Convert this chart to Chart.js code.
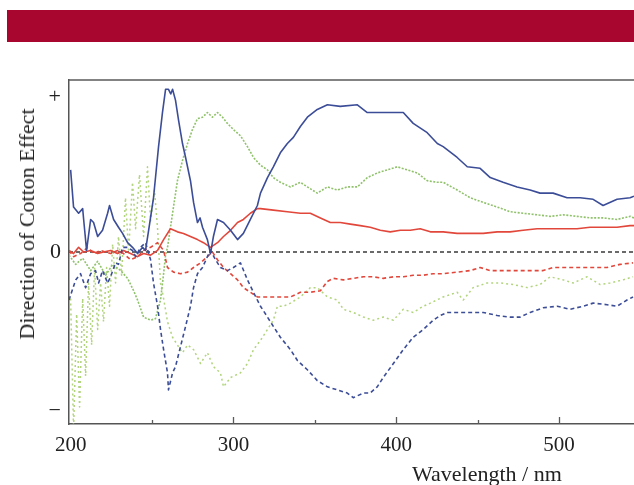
<!DOCTYPE html>
<html><head><meta charset="utf-8">
<script src="https://cdn.jsdelivr.net/npm/chart.js@4"></script>
<style>
html,body{margin:0;padding:0;background:#fff;}
#wrap{position:relative;width:634px;height:485px;overflow:hidden;background:#fff;}
#bar{position:absolute;left:7px;top:10px;width:627px;height:32px;background:#a8062f;}
canvas{position:absolute;left:0;top:0;}
.t{position:absolute;font-family:'Liberation Serif','Times New Roman',serif;color:#222;white-space:nowrap;}
#ytitle{left:27px;top:224px;font-size:22px;line-height:22px;transform:translate(-50%,-50%) rotate(-90deg);}
#xtitle{left:412px;top:463px;font-size:22px;line-height:22px;}
</style></head><body>
<div id="wrap"><div id="bar"></div><canvas id="c" width="634" height="485"></canvas>
<div class="t" id="ytitle">Direction of Cotton Effect</div>
<div class="t" id="xtitle">Wavelength / nm</div></div>
<script>
// ---- data: [wavelength nm, relative CD signal] ----
const blueSolid = [[200,0.53],[201.8,0.29],[204.9,0.25],[207.4,0.28],[208,0.21],[209.8,0.01],[212.3,0.21],[214.1,0.19],[216.6,0.10],[219.6,0.14],[222.7,0.25],[223.9,0.30],[226.4,0.21],[229.4,0.16],[231.9,0.12],[235,0.06],[238,0.03],[241.1,-0.01],[244.2,0.03],[246,0.01],[247.9,0.14],[250.9,0.35],[254,0.68],[256.4,0.90],[258.3,1.05],[260.1,1.05],[261.5,1.02],[262.6,1.05],[264.4,0.98],[266.3,0.85],[268.7,0.70],[270.6,0.61],[273.6,0.46],[275.5,0.32],[277.9,0.19],[279.5,0.22],[281,0.16],[284,0.08],[285.9,-0.01],[287.7,0.10],[290.2,0.21],[293.9,0.19],[298.2,0.14],[302.5,0.08],[306.1,0.12],[310.4,0.21],[314.7,0.30],[316.6,0.38],[320.9,0.48],[324.5,0.55],[328.8,0.64],[333.1,0.70],[336.8,0.74],[341.1,0.81],[345.4,0.87],[351.5,0.92],[357.7,0.95],[365.6,0.94],[376.1,0.95],[382.2,0.90],[390.2,0.90],[398.2,0.90],[404.3,0.90],[410.4,0.83],[419,0.77],[425.2,0.70],[428.8,0.68],[437.4,0.61],[443.6,0.55],[451.5,0.54],[457.7,0.48],[465.6,0.45],[474.2,0.42],[482.2,0.40],[488.3,0.38],[496.3,0.38],[504.9,0.35],[512.9,0.35],[520.9,0.34],[527,0.30],[535.6,0.34],[543.6,0.35],[546,0.36]];
const blueDashed = [[199,-0.31],[203.1,-0.18],[206.1,-0.14],[209.2,-0.23],[212.3,-0.14],[215.3,-0.12],[217.2,-0.20],[219.6,-0.12],[222.7,-0.20],[224.5,-0.16],[227.6,-0.07],[229.4,-0.08],[231.9,0.03],[235,0.03],[238,0.01],[239.9,-0.03],[242.9,0.03],[246,0.06],[249.1,-0.05],[250.9,-0.20],[253.4,-0.35],[255.2,-0.50],[257.1,-0.63],[259.5,-0.78],[260.1,-0.89],[262.6,-0.78],[264.4,-0.74],[267.5,-0.61],[270.6,-0.48],[273.6,-0.35],[275.5,-0.23],[277.9,-0.14],[281,-0.10],[284,-0.03],[285.9,0.01],[289,-0.05],[292,-0.10],[296.3,-0.12],[300,-0.10],[304.3,-0.07],[308.6,-0.18],[312.3,-0.26],[316.6,-0.35],[320.9,-0.42],[324.5,-0.48],[328.8,-0.55],[335,-0.63],[339.3,-0.70],[345.4,-0.76],[351.5,-0.83],[357.7,-0.87],[363.8,-0.89],[369.9,-0.91],[373.6,-0.94],[379.8,-0.91],[384,-0.91],[388.3,-0.87],[392,-0.81],[398.2,-0.72],[404.3,-0.63],[410.4,-0.55],[416.6,-0.50],[422.7,-0.44],[427,-0.41],[431.3,-0.39],[437.4,-0.39],[445.4,-0.39],[453.4,-0.39],[462,-0.41],[469.9,-0.42],[476.1,-0.42],[482.2,-0.39],[490.2,-0.36],[498.8,-0.35],[506.7,-0.37],[514.7,-0.35],[520.9,-0.33],[529.4,-0.34],[535.6,-0.35],[541.7,-0.31],[545.4,-0.29]];
const greenUpper = [[199,-0.02],[203.1,-0.08],[207.4,-0.04],[212.3,-0.12],[216.6,-0.06],[221.5,-0.15],[225.8,-0.08],[230.7,-0.12],[235,-0.17],[238.7,-0.25],[241.1,-0.31],[244.8,-0.42],[249.1,-0.44],[252.1,-0.43],[255.2,-0.31],[257.1,-0.14],[258.3,-0.02],[259.5,0.03],[262.6,0.25],[265.6,0.46],[268.7,0.59],[271.8,0.70],[274.8,0.79],[277.9,0.86],[281,0.87],[284,0.90],[287.1,0.87],[290.2,0.90],[293.3,0.87],[296.3,0.83],[300,0.79],[304.3,0.75],[308.6,0.68],[312.3,0.61],[316.6,0.56],[320.9,0.53],[324.5,0.48],[328.8,0.45],[335,0.42],[341.1,0.45],[345.4,0.42],[351.5,0.38],[357.7,0.42],[363.8,0.40],[369.9,0.42],[376.1,0.42],[382.2,0.48],[388.3,0.51],[394.5,0.53],[400.6,0.55],[406.7,0.53],[412.9,0.51],[419,0.46],[425.2,0.45],[428.8,0.45],[437.4,0.40],[445.4,0.35],[453.4,0.32],[462,0.29],[469.9,0.26],[477.9,0.25],[486.5,0.24],[494.5,0.23],[502.5,0.24],[511,0.23],[519,0.22],[527,0.22],[535.6,0.21],[543.6,0.23],[546,0.22]];
const greenLower = [[200,-0.30],[201.8,-1.15],[203.7,-0.40],[205.5,-1.0],[207.4,-0.30],[209.2,-0.80],[211,-0.20],[212.9,-0.60],[214.7,-0.10],[216.6,-0.50],[218.4,-0.20],[220.2,-0.45],[222.1,-0.10],[223.9,-0.35],[225.8,0.05],[227.6,-0.20],[229.4,0.10],[231.3,-0.15],[233.7,0.35],[235.6,0.0],[238,0.45],[239.9,0.15],[242.3,0.50],[244.8,0.10],[247.2,0.55],[249.1,0.20],[251.5,0.40],[253.4,0.15],[255.2,-0.20],[257.1,-0.30],[259.5,-0.45],[262.6,-0.55],[265.6,-0.60],[268.7,-0.65],[271.8,-0.60],[275.5,-0.63],[279.8,-0.72],[284,-0.65],[287.7,-0.74],[292,-0.78],[293.9,-0.87],[298.2,-0.81],[304.3,-0.78],[308.6,-0.72],[312.3,-0.63],[316.6,-0.57],[320.9,-0.50],[324.5,-0.44],[327,-0.35],[330.7,-0.35],[335,-0.33],[341.1,-0.29],[347.2,-0.23],[351.5,-0.23],[357.7,-0.29],[363.8,-0.31],[367.5,-0.37],[373.6,-0.39],[379.8,-0.42],[385.9,-0.44],[392,-0.42],[398.2,-0.44],[404.3,-0.37],[410.4,-0.39],[416.6,-0.35],[420.9,-0.33],[428.8,-0.29],[437.4,-0.26],[441.1,-0.31],[447.2,-0.23],[455.8,-0.20],[463.8,-0.20],[471.8,-0.21],[480.4,-0.23],[488.3,-0.21],[494.5,-0.16],[502.5,-0.18],[508.6,-0.20],[517.2,-0.16],[525.2,-0.21],[531.3,-0.20],[539.3,-0.18],[545.4,-0.16]];
const redSolid = [[199,0.01],[201.8,-0.01],[204.9,0.03],[208,0.0],[212.3,0.01],[216.6,-0.01],[220.2,0.0],[224.5,0.01],[228.8,-0.01],[232.5,0.01],[236.8,-0.01],[241.1,-0.03],[244.8,-0.01],[249.1,-0.02],[253.4,0.01],[257.1,0.08],[261.3,0.15],[265.6,0.13],[269.3,0.12],[273.6,0.10],[277.9,0.08],[281.6,0.06],[285.9,0.03],[290.2,0.06],[293.9,0.10],[298.2,0.14],[302.5,0.19],[306.1,0.21],[310.4,0.25],[314.7,0.28],[316.6,0.28],[324.5,0.27],[333.1,0.26],[341.1,0.25],[347.2,0.25],[353.4,0.22],[359.5,0.19],[365.6,0.19],[371.8,0.18],[377.9,0.17],[384,0.16],[390.2,0.14],[396.3,0.13],[402.5,0.14],[408.6,0.14],[414.7,0.15],[420.9,0.13],[428.8,0.13],[437.4,0.12],[445.4,0.12],[453.4,0.12],[462,0.13],[469.9,0.13],[477.9,0.14],[486.5,0.15],[494.5,0.15],[502.5,0.15],[511,0.15],[519,0.16],[527,0.16],[535.6,0.16],[543.6,0.17],[546,0.17]];
const redDashed = [[199,0.01],[201.8,-0.03],[206.1,-0.01],[210.4,0.03],[214.1,-0.01],[218.4,0.01],[224.5,-0.01],[228.8,0.01],[232.5,-0.01],[236.8,-0.05],[241.1,-0.03],[244.8,0.01],[249.1,0.03],[253.4,0.06],[257.1,0.01],[259.5,-0.10],[263.2,-0.13],[267.5,-0.14],[271.8,-0.13],[275.5,-0.10],[279.8,-0.07],[284,-0.03],[287.1,0.0],[290.2,-0.05],[293.9,-0.10],[298.2,-0.14],[302.5,-0.18],[306.1,-0.23],[310.4,-0.26],[314.7,-0.29],[322.7,-0.29],[328.8,-0.29],[335,-0.29],[341.1,-0.26],[347.2,-0.26],[353.4,-0.25],[357.7,-0.19],[361.3,-0.17],[367.5,-0.18],[373.6,-0.17],[379.8,-0.16],[385.9,-0.16],[392,-0.17],[398.2,-0.16],[404.3,-0.16],[410.4,-0.15],[416.6,-0.15],[422.7,-0.14],[428.8,-0.14],[437.4,-0.13],[445.4,-0.12],[451.5,-0.10],[457.7,-0.12],[465.6,-0.12],[474.2,-0.12],[482.2,-0.12],[490.2,-0.12],[496.3,-0.10],[504.9,-0.10],[512.9,-0.10],[520.9,-0.10],[529.4,-0.10],[537.4,-0.08],[545.4,-0.07]];
const zeroLine = [[199,0],[546,0]];
const xTickValues = [200, 300, 400, 500];
const xTickMarks = [250, 300, 350, 400, 450, 500];
const yTickValues = [-1.03, 0, 1];
const yTickLabels = ['\u2212', '0', '+'];
const xRange = [199, 546];
const yRange = [-1.11, 1.11];

const toXY = arr => arr.map(p => ({x: p[0], y: p[1]}));
const ds = (data, color, dash, width) => ({
  data: toXY(data), borderColor: color, borderDash: dash, borderWidth: width,
  pointRadius: 0, fill: false, tension: 0, borderJoinStyle: 'round'
});

const frame = {
  id: 'frame',
  afterDraw(chart) {
    const {ctx, chartArea: a, scales: {x}} = chart;
    ctx.save();
    ctx.strokeStyle = '#5a5a5a';
    ctx.lineWidth = 1.5;
    ctx.beginPath(); ctx.moveTo(a.left, a.top); ctx.lineTo(a.right, a.top); ctx.stroke();
    ctx.lineWidth = 1.3;
    xTickMarks.forEach(v => {
      const px = Math.round(x.getPixelForValue(v)) + 0.5;
      ctx.beginPath(); ctx.moveTo(px, a.bottom); ctx.lineTo(px, a.bottom - (v % 100 === 0 ? 7 : 4)); ctx.stroke();
    });
    ctx.restore();
  }
};

const serif = "'Liberation Serif', 'Times New Roman', serif";
new Chart(document.getElementById('c'), {
  type: 'line',
  data: { datasets: [
    ds(blueSolid, '#3c4d98', [], 1.6),
    ds(blueDashed, '#3c4d98', [4, 3], 1.6),
    ds(redSolid, '#e2473b', [], 1.6),
    ds(redDashed, '#e2473b', [4, 3], 1.6),
    ds(greenUpper, '#8fc26a', [2, 1.5], 1.6),
    ds(greenLower, '#b2d47c', [2, 3], 1.5),
    ds(zeroLine, '#3a3a3a', [4, 3], 1.4)
  ]},
  options: {
    responsive: false, animation: false,
    layout: { padding: { top: 80, left: 0, right: 0, bottom: 0 } },
    plugins: { legend: { display: false }, tooltip: { enabled: false } },
    scales: {
      x: {
        type: 'linear', min: xRange[0], max: xRange[1],
        afterBuildTicks: s => { s.ticks = xTickValues.map(v => ({value: v})); },
        afterFit: s => { s.height = 61; },
        ticks: { font: {family: serif, size: 21}, color: '#222', padding: 9, maxRotation: 0, autoSkip: false, callback: v => String(v) },
        grid: { display: false, drawTicks: false },
        border: { display: true, color: '#555', width: 1.5 }
      },
      y: {
        type: 'linear', min: yRange[0], max: yRange[1],
        afterBuildTicks: s => { s.ticks = yTickValues.map(v => ({value: v})); },
        afterFit: s => { s.width = 69; },
        ticks: { font: {family: serif, size: 22}, color: '#222', padding: 8, autoSkip: false, callback: (v, i) => yTickLabels[i] },
        grid: { display: false, drawTicks: false },
        border: { display: true, color: '#555', width: 1.5 }
      }
    }
  },
  plugins: [frame]
});
</script>
</body></html>
